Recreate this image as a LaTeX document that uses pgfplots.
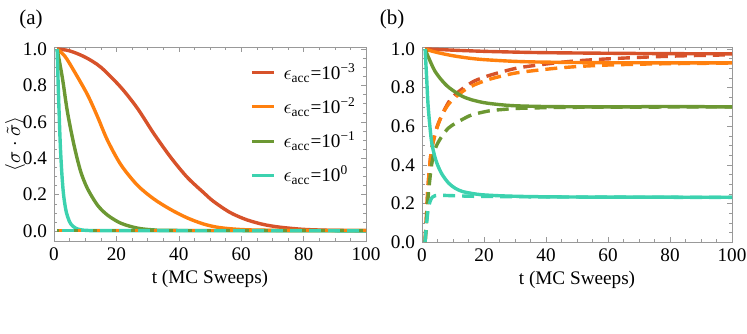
\documentclass[border=0pt]{standalone}
\usepackage{fontspec}
\setmainfont{Liberation Serif}
\usepackage{pgfplots}
\pgfplotsset{compat=1.18}

\definecolor{cRed}{RGB}{215,82,42}
\definecolor{cOrange}{RGB}{255,128,14}
\definecolor{cGreen}{RGB}{108,152,51}
\definecolor{cTeal}{RGB}{60,210,175}

\newcommand{\fs}{\fontsize{9.6}{11}\selectfont}

\pgfplotsset{
  panel/.style={
    scale only axis, width=156pt, height=97pt,
    xmin=0, xmax=100, xtick={0,20,40,60,80,100}, minor x tick num=3,
    ytick={0,0.2,0.4,0.6,0.8,1.0}, minor y tick num=3,
    tick align=inside, major tick length=2.5pt, minor tick length=1.5pt,
    axis line style={black!40}, tick style={black!40},
    tick label style={font=\fs},
    label style={font=\fs},
    /pgf/number format/assume math mode=true,
    y tick label style={/pgf/number format/fixed,
      /pgf/number format/fixed zerofill, /pgf/number format/precision=1},
    xlabel={t (MC Sweeps)},
    xlabel style={at={(axis description cs:0.5,-0.196)}, anchor=center},
  },
  sol/.style={line width=1.7pt, smooth, tension=0.5},
  das/.style={line width=1.7pt, smooth, tension=0.5, dash pattern=on 6pt off 3.5pt},
}

\begin{document}
\begin{tikzpicture}
\useasboundingbox (0,0) rectangle (373.5pt,-166.5pt);

\node[font=\fontsize{10.5}{12}\selectfont] at (15.5pt,-9.5pt) {(a)};
\node[font=\fontsize{10.5}{12}\selectfont] at (196pt,-9.5pt) {(b)};

% panel (a)
\begin{axis}[panel, at={(27pt,-120.5pt)}, anchor=south west,
  ymin=-0.055, ymax=1.011,
  ylabel={$\langle\sigma\cdot\tilde{\sigma}\rangle$},
  ylabel style={at={(axis description cs:-0.125,0.5)}, anchor=center},
  legend image code/.code={\draw[#1, line width=1.5pt] (0pt,0pt) -- (11pt,0pt); \path (15pt,0pt);},
  legend cell align=left,
  legend style={draw=none, fill=none, font=\fs, at={(rel axis cs:0.628,0.919)}, anchor=north west,
    inner sep=0pt, row sep=7.5pt, nodes={inner sep=0pt}},
]
\addplot[sol, cRed] coordinates {
  (1,1.0) (5,0.99) (10,0.955) (15,0.9) (21.4,0.79) (26.7,0.675) (32,0.535)
  (37.4,0.405) (42.7,0.295) (48,0.21) (51.1,0.163) (56.4,0.102) (61.7,0.062)
  (67.1,0.036) (72.4,0.021) (80,0.009) (88.5,0.004) (100,0.002)
};
\addlegendentry{$\epsilon$\textsubscript{acc}=10\textsuperscript{−3}}
\addplot[sol, cOrange] coordinates {
  (1,1.0) (3.5,0.96) (6.4,0.88) (10.7,0.75) (13.9,0.63) (17.1,0.5)
  (21.4,0.365) (26.7,0.252) (32,0.176) (37.4,0.118) (42.7,0.072) (48,0.038)
  (53,0.019) (60,0.008) (70,0.004) (100,0.002)
};
\addlegendentry{$\epsilon$\textsubscript{acc}=10\textsuperscript{−2}}
\addplot[sol, cGreen] coordinates {
  (1,1.0) (2.7,0.84) (4.3,0.655) (6.4,0.473) (8.5,0.33) (10.7,0.234)
  (13.9,0.143) (17.1,0.088) (21.4,0.043) (26.7,0.016) (32,0.006) (40,0.003)
  (100,0.002)
};
\addlegendentry{$\epsilon$\textsubscript{acc}=10\textsuperscript{−1}}
\addplot[sol, cTeal] coordinates {
  (1,1.0) (1.5,0.72) (2,0.48) (2.5,0.32) (3,0.21) (3.5,0.145) (4,0.1)
  (5,0.05) (6,0.027) (7,0.015) (8.5,0.007) (11,0.003) (20,0.002) (100,0.001)
};
\addlegendentry{$\epsilon$\textsubscript{acc}=10\textsuperscript{0}}
\addplot[das, cRed, forget plot, dash phase=0pt] coordinates {(1,0.002) (50,0.002) (100,0.002)};
\addplot[das, cOrange, forget plot, dash phase=2.5pt] coordinates {(1,0.003) (50,0.003) (100,0.003)};
\addplot[das, cGreen, forget plot, dash phase=5pt] coordinates {(1,0.002) (50,0.002) (100,0.002)};
\addplot[das, cTeal, forget plot, dash phase=7pt] coordinates {(1,0.002) (50,0.002) (100,0.002)};
\end{axis}

% panel (b)
\begin{axis}[panel, at={(211pt,-121pt)}, anchor=south west, width=155pt, height=97.5pt,
  ymin=0, ymax=1.0104,
]
\addplot[sol, cRed] coordinates {
  (1,1.0) (5,0.998) (10,0.994) (20,0.988) (30,0.984) (40,0.981) (60,0.978)
  (80,0.976) (100,0.975)
};
\addplot[das, cRed] coordinates {
  (1,0) (1.5,0.15) (2,0.3) (3,0.47) (4.5,0.58) (6.5,0.66) (8.6,0.725)
  (10.75,0.765) (14,0.805) (17,0.835) (21.5,0.862) (27,0.887) (32,0.905)
  (43,0.928) (51,0.94) (60,0.949) (72,0.958) (85,0.965) (100,0.97)
};
\addplot[sol, cOrange] coordinates {
  (1,1.0) (3,0.99) (6,0.978) (10,0.965) (15,0.953) (20,0.945) (30,0.936)
  (40,0.932) (60,0.929) (100,0.928)
};
\addplot[das, cOrange] coordinates {
  (1,0) (1.5,0.15) (2,0.3) (3,0.47) (4.8,0.589) (6.45,0.658) (8.6,0.715)
  (10.75,0.75) (14,0.79) (17,0.815) (21.5,0.842) (27,0.865) (32,0.88)
  (43,0.9) (51,0.91) (60,0.917) (72,0.922) (85,0.925) (100,0.927)
};
\addplot[sol, cGreen] coordinates {
  (1,1.0) (2,0.96) (4,0.89) (6,0.845) (8,0.81) (10,0.785) (13,0.755)
  (16,0.737) (20,0.722) (25,0.712) (30,0.706) (40,0.702) (60,0.70)
  (80,0.702) (100,0.70)
};
\addplot[das, cGreen] coordinates {
  (1,0) (1.5,0.12) (2,0.24) (3,0.39) (4,0.47) (5,0.51) (6.5,0.55) (8.5,0.59)
  (10.75,0.615) (13,0.635) (16,0.658) (21.5,0.679) (27,0.688) (32,0.693)
  (50,0.698) (100,0.70)
};
\addplot[sol, cTeal] coordinates {
  (1,1.0) (1.5,0.85) (2,0.7) (3,0.53) (4,0.45) (5,0.4) (6.5,0.35) (8.6,0.305)
  (10.75,0.278) (13,0.262) (16,0.252) (20,0.244) (30,0.237) (50,0.233)
  (100,0.232)
};
\addplot[das, cTeal] coordinates {
  (1,0) (1.5,0.1) (2,0.17) (2.6,0.21) (3.3,0.232) (4.2,0.24) (6,0.242)
  (10,0.24) (20,0.236) (50,0.233) (100,0.231)
};
\end{axis}
\end{tikzpicture}
\end{document}
